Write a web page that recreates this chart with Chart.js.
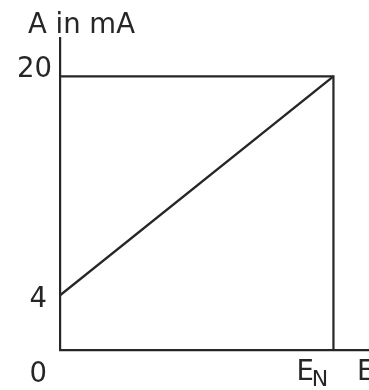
<!DOCTYPE html>
<html>
<head>
<meta charset="utf-8">
<script src="https://cdn.jsdelivr.net/npm/chart.js@4"></script>
<style>
    html, body { margin: 0; padding: 0; background: #fff; }
    #wrap { width: 369px; height: 390px; }
</style>
</head>
<body>
<div id="wrap"><canvas id="kennlinie"></canvas></div>
<script>
// Eingang (0 .. E_N) gegen Ausgangsstrom in mA
const eingang = [0, 1];
const ausgang = [4, 20];
const rahmenX = [0, 1, 1];
const rahmenY = [20, 20, 0];
const yTicks = [0, 4, 20];
const yLabels = ['0', '4', '20'];
const xTicks = [1, 1.13];
const xLabels = [['E', 'N'], ['E', '']];
const xMax = 1.13;
const yMax = 22.8;
const achsenTitel = 'A in mA';

const farbe = '#262626';
const schrift = '"DejaVu Sans", sans-serif';

const beschriftung = {
    id: 'beschriftung',
    afterDraw(chart) {
        const ctx = chart.ctx;
        const xs = chart.scales.x;
        const ys = chart.scales.y;
        const links = chart.chartArea.left;
        ctx.save();
        ctx.fillStyle = farbe;
        ctx.font = '27.5px ' + schrift;
        ctx.textBaseline = 'alphabetic';

        // Titel oben links
        ctx.textAlign = 'left';
        ctx.fillText(achsenTitel, 28, 33);

        // y-Beschriftung
        ctx.textAlign = 'right';
        yTicks.forEach((v, i) => {
            const py = ys.getPixelForValue(v);
            let base;
            if (v === 0) base = py + 32;
            else if (v === Math.max(...yTicks)) base = py + 1;
            else base = py + 12;
            const rx = yLabels[i].length > 1 ? links - 8 : links - 13;
            ctx.fillText(yLabels[i], rx, base);
        });

        // x-Beschriftung mit Index
        ctx.textAlign = 'left';
        xTicks.forEach((v, i) => {
            const px = xs.getPixelForValue(v);
            const [haupt, index] = xLabels[i];
            const x0 = index ? px - 37 : px - 12;
            ctx.font = '27.5px ' + schrift;
            ctx.fillText(haupt, x0, 380);
            if (index) {
                const w = ctx.measureText(haupt).width;
                ctx.font = '22px ' + schrift;
                ctx.fillText(index, x0 + w - 2, 386);
            }
        });
        ctx.restore();
    }
};

new Chart(document.getElementById('kennlinie'), {
    type: 'line',
    data: {
        datasets: [
            {
                data: eingang.map((x, i) => ({ x: x, y: ausgang[i] })),
                borderColor: farbe,
                borderWidth: 2.4,
                pointRadius: 0,
                fill: false,
                tension: 0
            },
            {
                data: rahmenX.map((x, i) => ({ x: x, y: rahmenY[i] })),
                borderColor: farbe,
                borderWidth: 2.2,
                pointRadius: 0,
                fill: false,
                tension: 0
            }
        ]
    },
    options: {
        responsive: true,
        maintainAspectRatio: false,
        animation: false,
        layout: { padding: { top: 38, right: 0, left: 0, bottom: 0 } },
        plugins: { legend: { display: false }, tooltip: { enabled: false } },
        scales: {
            x: {
                type: 'linear',
                min: 0,
                max: xMax,
                grid: { display: false },
                border: { display: true, color: farbe, width: 2.2 },
                ticks: { display: false },
                afterFit(scale) { scale.height = 40; }
            },
            y: {
                type: 'linear',
                min: 0,
                max: yMax,
                grid: { display: false },
                border: { display: true, color: farbe, width: 2.2 },
                ticks: { display: false },
                afterFit(scale) { scale.width = 60; }
            }
        }
    },
    plugins: [beschriftung]
});
</script>
</body>
</html>
